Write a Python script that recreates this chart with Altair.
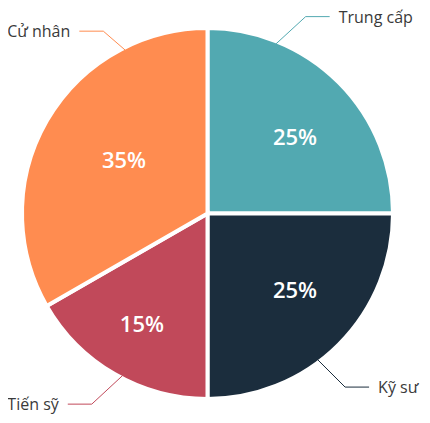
import math
import altair as alt
import pandas as pd

# ---- data ----
categories = ["Trung cấp", "Kỹ sư", "Tiến sỹ", "Cử nhân"]
values = [25, 25, 16.7, 33.3]          # slice sizes as drawn
pct_labels = ["25%", "25%", "15%", "35%"]
colors = ["#52a9b1", "#1b2d3d", "#c1495a", "#ff8c50"]

# ---- layout / style constants ----
W, H = 414, 415
CX, CY = 199.5, 205.5          # pie centre inside the view (px)
R = 185.5                       # outer radius (incl. white stroke)
R_EDGE = 183.0                  # where connectors start
FONT = "Open Sans"
# inner label: (angle offset from slice mid-angle in deg, radius px)
inner_pos = {"Trung cấp": (4.2, 115.6), "Kỹ sư": (-3.6, 116.6),
             "Tiến sỹ": (0.3, 129.7), "Cử nhân": (1.9, 98.4)}
# connector: (start angle offset, elbow angle offset, elbow radius, side)
conn = {"Trung cấp": (-23.0, -18.5, 220.0, 1), "Kỹ sư": (8.0, 6.6, 221.5, 1),
        "Tiến sỹ": (-2.4, 1.2, 223.0, -1), "Cử nhân": (33.2, 30.2, 210.0, -1)}
HSEG, TGAP = 24, 9

total = sum(values)
mids, cum = [], 0.0
for v in values:
    mids.append((cum + v / 2) / total * 360.0)
    cum += v

def polar(a_deg, r):
    a = math.radians(a_deg)
    return r * math.sin(a), r * math.cos(a)   # x right, y up

pie_df = pd.DataFrame({"cat": categories, "value": values,
                       "idx": list(range(len(values)))})

pct_rows, line_rows, lab_rows = [], [], []
for i, c in enumerate(categories):
    ao, rr = inner_pos[c]
    x, y = polar(mids[i] + ao, rr)
    pct_rows.append({"cat": c, "x": x, "y": y, "t": pct_labels[i]})
    so, eo, er, side = conn[c]
    x0, y0 = polar(mids[i] + so, R_EDGE)
    x1, y1 = polar(mids[i] + eo, er)
    x2 = x1 + side * HSEG
    for k, (px, py) in enumerate([(x0, y0), (x1, y1), (x2, y1)]):
        line_rows.append({"cat": c, "k": k, "x": px, "y": py})
    lab_rows.append({"cat": c, "x": x2 + side * TGAP, "y": y1 - 1,
                     "side": "r" if side > 0 else "l"})

pct_df = pd.DataFrame(pct_rows)
line_df = pd.DataFrame(line_rows)
lab_df = pd.DataFrame(lab_rows)

xs = alt.Scale(domain=[-CX, W - CX])
ys = alt.Scale(domain=[-(H - CY), CY])
cs = alt.Scale(domain=categories, range=colors)

arcs = alt.Chart(pie_df).mark_arc(outerRadius=R, stroke="white", strokeWidth=4).encode(
    theta=alt.Theta("value:Q", stack=True),
    color=alt.Color("cat:N", scale=cs, legend=None),
    order=alt.Order("idx:Q"),
    x=alt.value(CX), y=alt.value(CY),
)

lines = alt.Chart(line_df).mark_line(strokeWidth=1).encode(
    x=alt.X("x:Q", scale=xs, axis=None),
    y=alt.Y("y:Q", scale=ys, axis=None),
    color=alt.Color("cat:N", scale=cs, legend=None),
    detail="cat:N",
    order="k:Q",
)

pct = alt.Chart(pct_df).mark_text(font=FONT, fontSize=22, fontWeight=600,
                                  color="white", baseline="middle", align="center").encode(
    x=alt.X("x:Q", scale=xs, axis=None),
    y=alt.Y("y:Q", scale=ys, axis=None),
    text="t:N",
)

lab_r = alt.Chart(lab_df).transform_filter(alt.datum.side == "r").mark_text(
    font=FONT, fontSize=16, color="#3a3a3a", baseline="middle", align="left").encode(
    x=alt.X("x:Q", scale=xs, axis=None),
    y=alt.Y("y:Q", scale=ys, axis=None),
    text="cat:N",
)
lab_l = alt.Chart(lab_df).transform_filter(alt.datum.side == "l").mark_text(
    font=FONT, fontSize=16, color="#3a3a3a", baseline="middle", align="right").encode(
    x=alt.X("x:Q", scale=xs, axis=None),
    y=alt.Y("y:Q", scale=ys, axis=None),
    text="cat:N",
)

chart = alt.layer(arcs, lines, pct, lab_r, lab_l).properties(
    width=W, height=H, padding=0, autosize="none", background="white"
).configure_view(stroke=None)

chart.save("out.html", embed_options={"renderer": "svg", "actions": False})
